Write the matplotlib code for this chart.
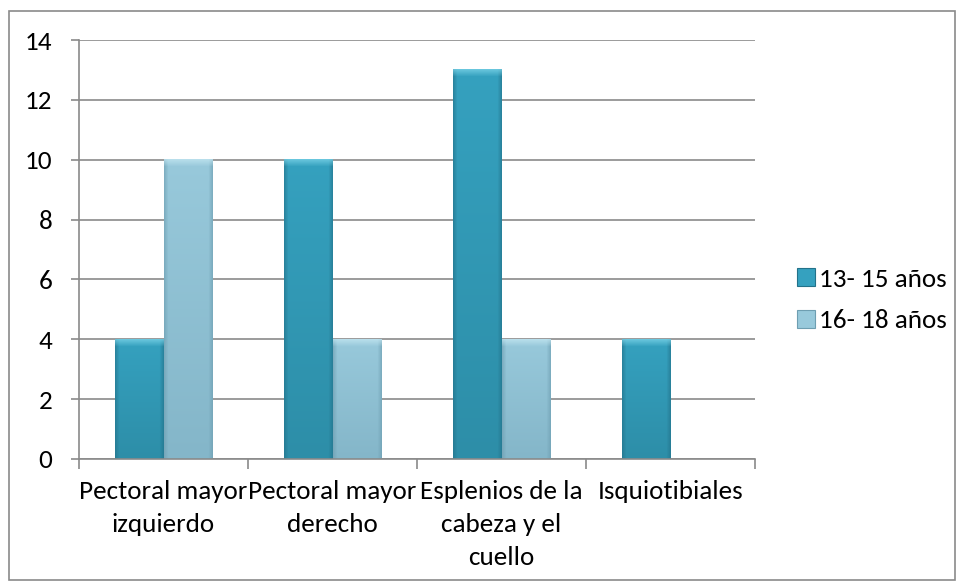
import matplotlib.pyplot as plt
import numpy as np
from matplotlib.patches import Rectangle
from matplotlib.colors import to_rgb

categories = ['Pectoral mayor\nizquierdo', 'Pectoral mayor\nderecho',
              'Esplenios de la\ncabeza y el\ncuello', 'Isquiotibiales']
series_names = ['13- 15 años', '16- 18 años']
vals_13_15 = [4, 10, 13, 4]
vals_16_18 = [10, 4, 4, 0]
# (top, bottom, side, bevel) colours for each series
shades = [('#35A1BF', '#2D8EA8', '#23728A', '#7FD6EA'),
          ('#98C9DB', '#84B6C9', '#6E9EB1', '#C6E8F2')]

plt.rcParams['font.family'] = ['Carlito', 'Lato', 'DejaVu Sans']
FS = 19.5

fig = plt.figure(figsize=(9.56, 5.82), dpi=100)
fig.patches.append(Rectangle((9/956, 2/582), 946/956, 569/582, transform=fig.transFigure,
                             fill=False, edgecolor='#8a8a8a', linewidth=1.2))

ax = fig.add_axes([79/956, 1 - 459/582, 676/956, 419/582])
x = np.arange(len(categories))
w = 1 / 3.5
px_per_unit = 419 / 14


def bar_image(height, shade):
    top, bot, side, bev = [np.array(to_rgb(c)) for c in shade]
    ny = max(int(height * px_per_unit), 2)
    nx = 48
    t = np.linspace(0, 1, ny)[:, None, None]
    img = top * (1 - t) + bot * t
    img = np.repeat(img, nx, axis=1)
    edge = np.minimum(np.arange(nx), np.arange(nx)[::-1])
    f = np.clip(1 - edge / 4.0, 0, 1)[None, :, None] * 0.6
    img = img * (1 - f) + side * f
    b = np.clip(1 - np.arange(ny) / 7.0, 0, 1)[:, None, None] * 0.7
    img = img * (1 - b) + bev * b
    return img


for i, vals in enumerate([vals_13_15, vals_16_18]):
    bars = ax.bar(x + (i - 0.5) * w, vals, width=w, color=shades[i][0],
                  edgecolor='none', label=series_names[i], zorder=3)
    for r in bars:
        h = r.get_height()
        if h <= 0:
            continue
        x0 = r.get_x()
        ax.imshow(bar_image(h, shades[i]), extent=(x0, x0 + r.get_width(), 0, h),
                  aspect='auto', interpolation='bilinear', zorder=4)

ax.set_xlim(-0.5, len(categories) - 0.5)
ax.set_ylim(0, 14)
ax.set_yticks(range(0, 15, 2))
ax.yaxis.grid(True, color='#8a8a8a', linewidth=1.2, zorder=0)
ax.set_xticks(x)
ax.set_xticklabels(categories, fontsize=FS, linespacing=1.53)
ax.set_xticks(np.arange(-0.5, len(categories)), minor=True)
ax.tick_params(axis='x', which='major', length=0, pad=15)
ax.tick_params(axis='x', which='minor', length=7, color='#8a8a8a', width=1.2)
ax.tick_params(axis='y', length=6, color='#8a8a8a', width=1.2, labelsize=FS, pad=13)
for s in ['top', 'right']:
    ax.spines[s].set_visible(False)
for s in ['left', 'bottom']:
    ax.spines[s].set_color('#8a8a8a')
    ax.spines[s].set_linewidth(1.2)
    ax.spines[s].set_zorder(5)

handles = [Rectangle((0, 0), 1, 1, facecolor=shades[k][0], edgecolor=shades[k][2], linewidth=0.8)
           for k in range(2)]
fig.legend(handles, series_names, loc='center left', bbox_to_anchor=(797/956, 1 - 300/582),
           frameon=False, fontsize=FS, borderpad=0, borderaxespad=0,
           handlelength=0.65, handleheight=0.65, handletextpad=0.15, labelspacing=0.7)

fig.savefig('out.png', dpi=100)
